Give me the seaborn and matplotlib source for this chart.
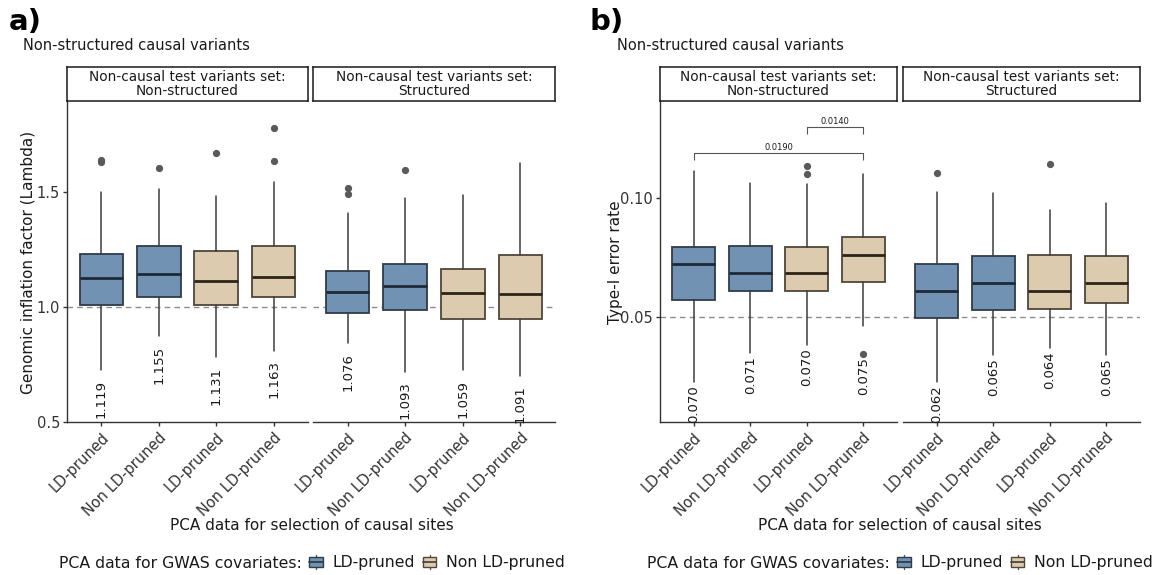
import matplotlib
matplotlib.use("Agg")
import matplotlib.pyplot as plt
import seaborn as sns
from matplotlib.patches import Rectangle
from matplotlib.lines import Line2D
from matplotlib.legend_handler import HandlerBase

sns.set_theme(style="ticks")
plt.rcParams["font.family"] = ["DejaVu Sans"]

# ---------------------------------------------------------------- data
facet_titles = ["Non-causal test variants set:\nNon-structured",
                "Non-causal test variants set:\nStructured"]
site_labels = ["LD-pruned", "Non LD-pruned", "LD-pruned", "Non LD-pruned"]
covar_groups = ["LD-pruned", "LD-pruned", "Non LD-pruned", "Non LD-pruned"]
covar_levels = ["LD-pruned", "Non LD-pruned"]

# genomic inflation factor, 8 boxes (4 per facet)
lam_q1 = [1.009, 1.042, 1.009, 1.045, 0.972, 0.987, 0.946, 0.946]
lam_med = [1.126, 1.145, 1.113, 1.132, 1.067, 1.091, 1.061, 1.058]
lam_q3 = [1.229, 1.265, 1.245, 1.267, 1.158, 1.188, 1.167, 1.226]
lam_lo = [0.726, 0.874, 0.784, 0.810, 0.842, 0.719, 0.726, 0.701]
lam_hi = [1.501, 1.513, 1.483, 1.545, 1.410, 1.472, 1.487, 1.625]
lam_out = [[1.639, 1.632], [1.604], [1.670], [1.780, 1.633],
           [1.519, 1.490], [1.594], [], []]
lam_mean = [1.119, 1.155, 1.131, 1.163, 1.076, 1.093, 1.059, 1.091]

# type-I error rate, 8 boxes (4 per facet)
t1_q1 = [0.0570, 0.0609, 0.0609, 0.0648, 0.0497, 0.0531, 0.0535, 0.0559]
t1_med = [0.0723, 0.0686, 0.0685, 0.0763, 0.0612, 0.0644, 0.0611, 0.0644]
t1_q3 = [0.0797, 0.0800, 0.0797, 0.0837, 0.0724, 0.0758, 0.0763, 0.0758]
t1_lo = [0.0229, 0.0349, 0.0384, 0.0461, 0.0229, 0.0342, 0.0370, 0.0342]
t1_hi = [0.1114, 0.1066, 0.1060, 0.1102, 0.1028, 0.1021, 0.0951, 0.0979]
t1_out = [[], [], [0.1137, 0.1101], [0.0345], [0.1105], [], [0.1143], []]
t1_mean = [0.070, 0.071, 0.070, 0.075, 0.062, 0.065, 0.064, 0.065]

# pairwise comparisons in the first type-I facet: (left box, right box, p)
cmp_left = [0, 2]
cmp_right = [3, 3]
cmp_p = ["0.0190", "0.0140"]
cmp_level = [0.1189, 0.1298]

# ---------------------------------------------------------------- style
fills = {"LD-pruned": "#7192b3", "Non LD-pruned": "#dccbae"}
edges = {"LD-pruned": "#2f3c49", "Non LD-pruned": "#4f473a"}
meds = {"LD-pruned": "#1c2a37", "Non LD-pruned": "#2c2418"}
TXT = "#1a1a1a"
TICK = "#333333"

W, H = 1154, 575
fig = plt.figure(figsize=(W / 100, H / 100), dpi=100)
fig.patch.set_facecolor("white")


def fx(px):
    return px / W


def fy(py):
    return 1 - py / H


PANEL_TOP, PANEL_BOT, STRIP_TOP = 101, 422, 67


def draw_panel(xranges, q1, med, q3, lo, hi, out, mean, ylim, yticks,
               yfmt, refline, label_gap):
    axes = []
    for f, (x0, x1) in enumerate(xranges):
        ax = fig.add_axes([fx(x0), fy(PANEL_BOT), fx(x1) - fx(x0),
                           (PANEL_BOT - PANEL_TOP) / H])
        ax.set_facecolor("white")
        idx = range(4 * f, 4 * f + 4)
        stats = []
        for i in idx:
            stats.append(dict(med=med[i], q1=q1[i], q3=q3[i],
                              whislo=lo[i], whishi=hi[i], fliers=out[i]))
        ax.axhline(refline, color="#8c8c8c", lw=1.0, ls=(0, (4, 3)), zorder=0)
        res = ax.bxp(stats, positions=list(range(4)), widths=0.76,
                     patch_artist=True, showcaps=False,
                     whiskerprops=dict(color="#3c3c3c", lw=1.1),
                     flierprops=dict(marker="o", markersize=4.2,
                                     markerfacecolor="#5a5a5a",
                                     markeredgecolor="#5a5a5a"),
                     medianprops=dict(lw=2.0),
                     boxprops=dict(lw=1.3))
        for k, i in enumerate(idx):
            g = covar_groups[k]
            res["boxes"][k].set_facecolor(fills[g])
            res["boxes"][k].set_edgecolor(edges[g])
            res["medians"][k].set_color(meds[g])
            res["boxes"][k].set_zorder(2)
            res["medians"][k].set_zorder(3)
            low = min([lo[i]] + list(out[i]))
            ax.annotate(f"{mean[i]:.3f}", xy=(k, low),
                        xytext=(0, -label_gap), textcoords="offset points",
                        rotation=90, ha="center", va="top",
                        fontsize=9.5, color=TXT)
        ax.set_xlim(-0.6, 3.6)
        ax.set_ylim(*ylim)
        ax.set_xticks(range(4))
        ax.set_xticklabels(site_labels, rotation=45, ha="right",
                           rotation_mode="anchor", fontsize=10.5, color=TICK)
        ax.tick_params(axis="x", length=3, width=1, color=TICK, pad=3)
        for s in ["top", "right"]:
            ax.spines[s].set_visible(False)
        ax.spines["bottom"].set_color(TICK)
        ax.spines["bottom"].set_linewidth(1.0)
        if f == 0:
            ax.set_yticks(yticks)
            ax.set_yticklabels([yfmt.format(v) for v in yticks],
                               fontsize=10.5, color=TICK)
            ax.tick_params(axis="y", length=3, width=1, color=TICK, pad=2)
            ax.spines["left"].set_color(TICK)
            ax.spines["left"].set_linewidth(1.0)
        else:
            ax.set_yticks([])
            ax.spines["left"].set_visible(False)
        # facet strip
        sx = fig.add_axes([fx(x0), fy(PANEL_TOP), fx(x1) - fx(x0),
                           (PANEL_TOP - STRIP_TOP) / H])
        sx.set_xticks([])
        sx.set_yticks([])
        sx.set_facecolor("white")
        for s in sx.spines.values():
            s.set_visible(True)
            s.set_color("#1a1a1a")
            s.set_linewidth(1.1)
        sx.text(0.5, 0.5, facet_titles[f], ha="center", va="center",
                fontsize=9.8, color=TXT, linespacing=1.0,
                transform=sx.transAxes)
        axes.append(ax)
    return axes


class BoxKey(HandlerBase):
    def create_artists(self, legend, orig_handle, xdescent, ydescent,
                       width, height, fontsize, trans):
        fc = orig_handle.get_facecolor()
        ec = orig_handle.get_edgecolor()
        cx = -xdescent + width / 2
        y0 = -ydescent
        bw = width * 0.95
        wh = Line2D([cx, cx], [y0 - height * 0.1, y0 + height * 1.1],
                    color="#555555", lw=1.0, transform=trans)
        box = Rectangle((cx - bw / 2, y0 + height * 0.1), bw, height * 0.8,
                        facecolor=fc, edgecolor=ec, lw=1.0, transform=trans)
        md = Line2D([cx - bw / 2, cx + bw / 2], [y0 + height * 0.5] * 2,
                    color=ec, lw=1.3, transform=trans)
        return [wh, box, md]


def draw_legend(center_x, y):
    title = fig.text(0, fy(y), "PCA data for GWAS covariates:",
                     ha="left", va="center", fontsize=11.3, color=TXT)
    handles = [Rectangle((0, 0), 1, 1, facecolor=fills[c], edgecolor=edges[c])
               for c in covar_levels]
    leg = fig.legend(handles, covar_levels, loc="center left",
                     bbox_to_anchor=(0, fy(y)), ncol=2, frameon=False,
                     fontsize=11.3, handlelength=0.9, handleheight=0.8,
                     handletextpad=0.6, columnspacing=0.5, borderpad=0,
                     borderaxespad=0, handler_map={Rectangle: BoxKey()})
    for t in leg.get_texts():
        t.set_color(TXT)
    fig.canvas.draw()
    r = fig.canvas.get_renderer()
    tw = title.get_window_extent(r).width
    lw_ = leg.get_window_extent(r).width
    gap = 7
    total = tw + gap + lw_
    left = center_x - total / 2
    title.set_x(fx(left))
    leg.set_bbox_to_anchor((fx(left + tw + gap), fy(y)), transform=fig.transFigure)


# panel a
draw_panel([(67, 308), (313, 555)], lam_q1, lam_med, lam_q3, lam_lo, lam_hi,
           lam_out, lam_mean, (0.5, 1.896), [0.5, 1.0, 1.5], "{:.1f}", 1.0, 7)
fig.text(fx(9), fy(22), "a)", fontsize=21, fontweight="bold", va="center",
         color="#000000")
fig.text(fx(23), fy(46), "Non-structured causal variants", fontsize=10.5,
         va="center", color=TXT)
fig.text(fx(28), fy(262), "Genomic inflation factor (Lambda)", rotation=90,
         ha="center", va="center", fontsize=11, color=TXT)
fig.text(fx(312), fy(525), "PCA data for selection of causal sites",
         ha="center", va="center", fontsize=11, color=TXT)

# panel b
axb = draw_panel([(660, 897), (903, 1140)], t1_q1, t1_med, t1_q3, t1_lo,
                 t1_hi, t1_out, t1_mean, (0.0059, 0.1409), [0.05, 0.10],
                 "{:.2f}", 0.05, 2.5)
for a, b, p, lev in zip(cmp_left, cmp_right, cmp_p, cmp_level):
    tick = 0.0028
    axb[0].plot([a, a, b, b], [lev - tick, lev, lev, lev - tick],
                color="#555555", lw=0.8, solid_capstyle="butt")
    axb[0].text((a + b) / 2, lev + 0.0007, p, ha="center", va="bottom",
                fontsize=6, color=TXT)
fig.text(fx(590), fy(22), "b)", fontsize=21, fontweight="bold", va="center",
         color="#000000")
fig.text(fx(617), fy(46), "Non-structured causal variants", fontsize=10.5,
         va="center", color=TXT)
fig.text(fx(615), fy(262), "Type-I error rate", rotation=90,
         ha="center", va="center", fontsize=11, color=TXT)
fig.text(fx(900), fy(525), "PCA data for selection of causal sites",
         ha="center", va="center", fontsize=11, color=TXT)

draw_legend(312, 563)
draw_legend(900, 563)

fig.savefig("out.png", dpi=100, facecolor="white")
